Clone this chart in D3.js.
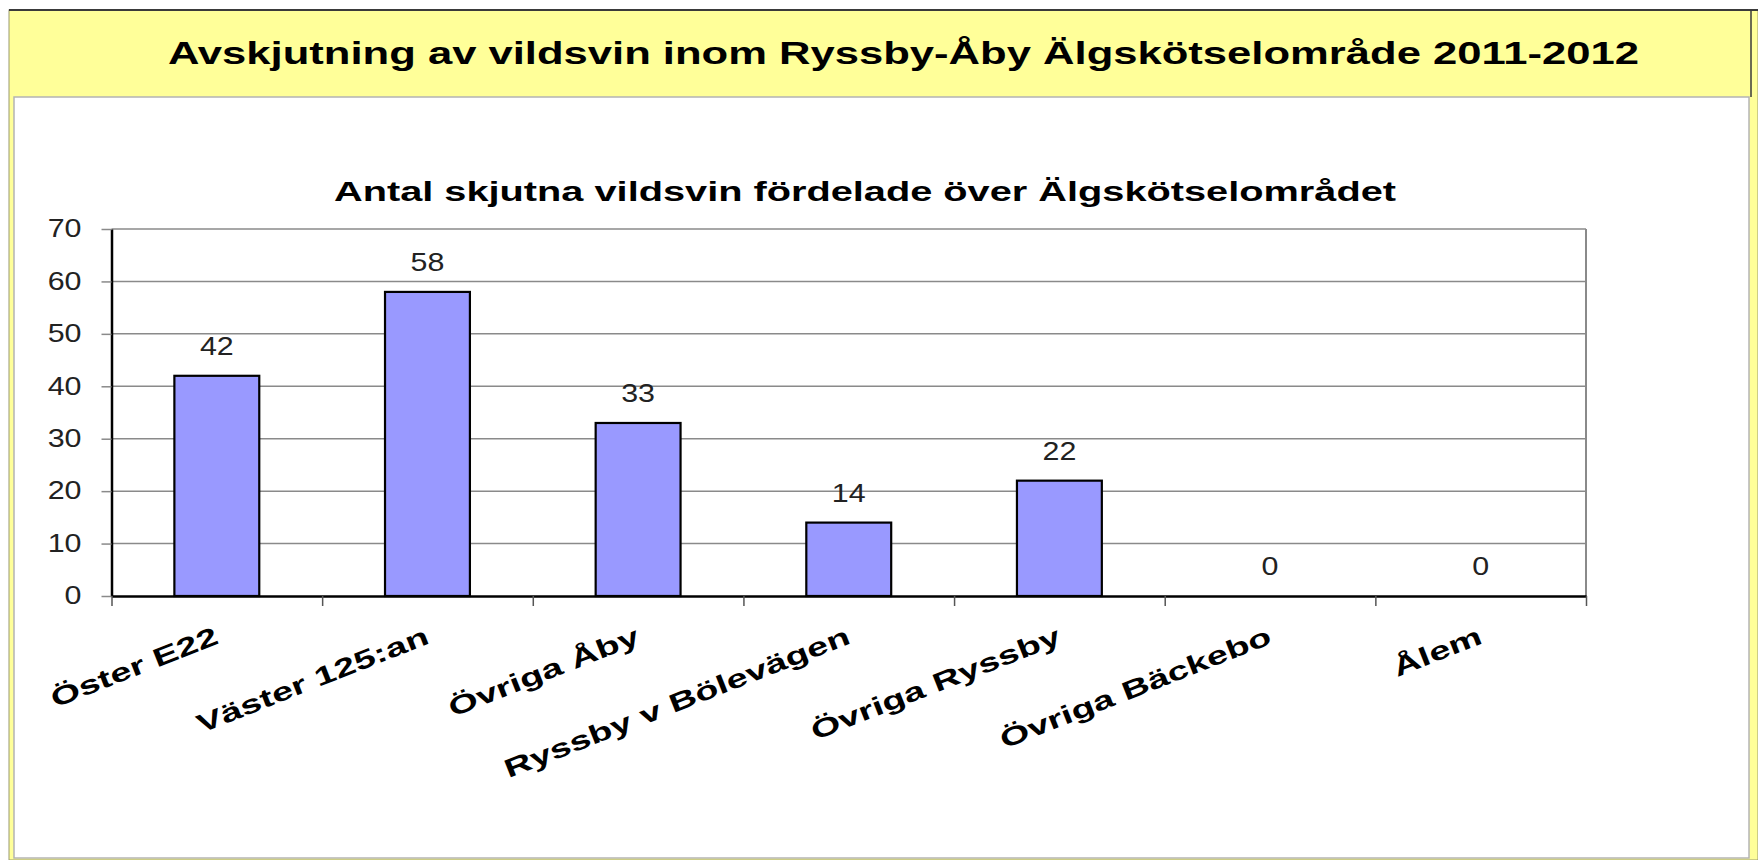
<!DOCTYPE html>
<html>
<head>
<meta charset="utf-8">
<script src="https://cdn.jsdelivr.net/npm/d3@7"></script>
<style>
  html, body { margin: 0; padding: 0; background: #fff; }
  svg { display: block; font-family: "Liberation Sans", Arial, sans-serif; }
</style>
</head>
<body>
<svg id="chart" width="1758" height="860"></svg>
<script>
// ---- data ----
const titleText = "Avskjutning av vildsvin inom Ryssby-Åby Älgskötselområde 2011-2012";
const subtitleText = "Antal skjutna vildsvin fördelade över Älgskötselområdet";
const categories = ["Öster E22", "Väster 125:an", "Övriga Åby", "Ryssby v Bölevägen", "Övriga Ryssby", "Övriga Bäckebo", "Ålem"];
const values = [42, 58, 33, 14, 22, 0, 0];
const yTicks = [0, 10, 20, 30, 40, 50, 60, 70];

// ---- layout ----
const W = 1758, H = 860;
const plot = { left: 111.5, right: 1586, top: 229, bottom: 596 };
const svg = d3.select("#chart");

// frame: yellow box with banner and white inner area
svg.append("rect").attr("x", 9).attr("y", 10).attr("width", W - 9).attr("height", H - 10)
  .attr("fill", "#ffff99").attr("stroke", "#9a9a70").attr("stroke-width", 1);
svg.append("line").attr("x1", 9).attr("x2", W).attr("y1", 10).attr("y2", 10)
  .attr("stroke", "#3a3a3a").attr("stroke-width", 2);
svg.append("line").attr("x1", 1751).attr("x2", 1751).attr("y1", 10).attr("y2", 97)
  .attr("stroke", "#3a3a3a").attr("stroke-width", 1.5);
svg.append("rect").attr("x", 14).attr("y", 97).attr("width", 1749 - 14).attr("height", 858 - 97)
  .attr("fill", "#ffffff").attr("stroke", "#b4b4b4").attr("stroke-width", 1.5);

// title
svg.append("text").attr("x", 168).attr("y", 64)
  .attr("font-size", 31).attr("font-weight", "bold").attr("fill", "#000")
  .attr("textLength", 1471).attr("lengthAdjust", "spacingAndGlyphs")
  .text(titleText);

// subtitle
svg.append("text").attr("x", 334).attr("y", 201)
  .attr("font-size", 27).attr("font-weight", "bold").attr("fill", "#000")
  .attr("textLength", 1062).attr("lengthAdjust", "spacingAndGlyphs")
  .text(subtitleText);

// ---- scales ----
const y = d3.scaleLinear().domain([0, 70]).range([plot.bottom, plot.top]);
const x = d3.scaleBand().domain(categories).range([plot.left, plot.right]).padding(0);
const xIdx = d3.scaleLinear().domain([0, categories.length]).range([plot.left, plot.right]);
const barW = x.bandwidth() * 0.403;

// gridlines
svg.append("g").selectAll("line").data(yTicks.filter(d => d > 0)).join("line")
  .attr("x1", plot.left).attr("x2", plot.right)
  .attr("y1", d => y(d)).attr("y2", d => y(d))
  .attr("stroke", "#8a8a8a").attr("stroke-width", 1.5);
// right border
svg.append("line").attr("x1", plot.right).attr("x2", plot.right)
  .attr("y1", plot.top).attr("y2", plot.bottom)
  .attr("stroke", "#8a8a8a").attr("stroke-width", 2);

// bars
svg.append("g").selectAll("rect").data(values).join("rect")
  .attr("x", (d, i) => x(categories[i]) + x.bandwidth() / 2 - barW / 2)
  .attr("y", d => y(d))
  .attr("width", barW)
  .attr("height", d => y(0) - y(d))
  .attr("fill", "#9999ff").attr("stroke", "#000").attr("stroke-width", 2.2);

// data labels
svg.append("g").selectAll("text").data(values).join("text")
  .attr("transform", (d, i) => `translate(${x(categories[i]) + x.bandwidth() / 2},${y(d) - 21}) scale(1.17,1)`)
  .attr("text-anchor", "middle").attr("font-size", 26).attr("fill", "#222")
  .text(d => d);

// y axis
const yAxis = svg.append("g").attr("transform", `translate(${plot.left},0)`)
  .call(d3.axisLeft(y).tickValues(yTicks).tickSize(10).tickSizeOuter(0).tickFormat(d3.format("d")));
yAxis.select(".domain").attr("stroke", "#000").attr("stroke-width", 2.5);
yAxis.selectAll(".tick line").attr("stroke", "#8a8a8a").attr("stroke-width", 1.5);
yAxis.selectAll(".tick text")
  .attr("x", 0).attr("dy", "0.3em")
  .attr("transform", "translate(-30,0) scale(1.17,1)")
  .attr("font-size", 26).attr("fill", "#222").attr("font-family", null);

// x axis (ticks at category boundaries)
const xAxis = svg.append("g").attr("transform", `translate(0,${plot.bottom})`)
  .call(d3.axisBottom(xIdx).tickValues(d3.range(categories.length + 1)).tickSize(10).tickSizeOuter(0).tickFormat(""));
xAxis.select(".domain").attr("stroke", "#000").attr("stroke-width", 2.5);
xAxis.selectAll(".tick line").attr("stroke", "#555").attr("stroke-width", 1.5);

// category labels (rotated)
svg.append("g").selectAll("text").data(categories).join("text")
  .attr("transform", d => `translate(${x(d) + x.bandwidth() / 2 + 3},${plot.bottom + 47}) rotate(-21.5) scale(1.46,1)`)
  .attr("text-anchor", "end").attr("font-size", 26).attr("font-weight", "bold").attr("fill", "#000")
  .text(d => d);
</script>
</body>
</html>
